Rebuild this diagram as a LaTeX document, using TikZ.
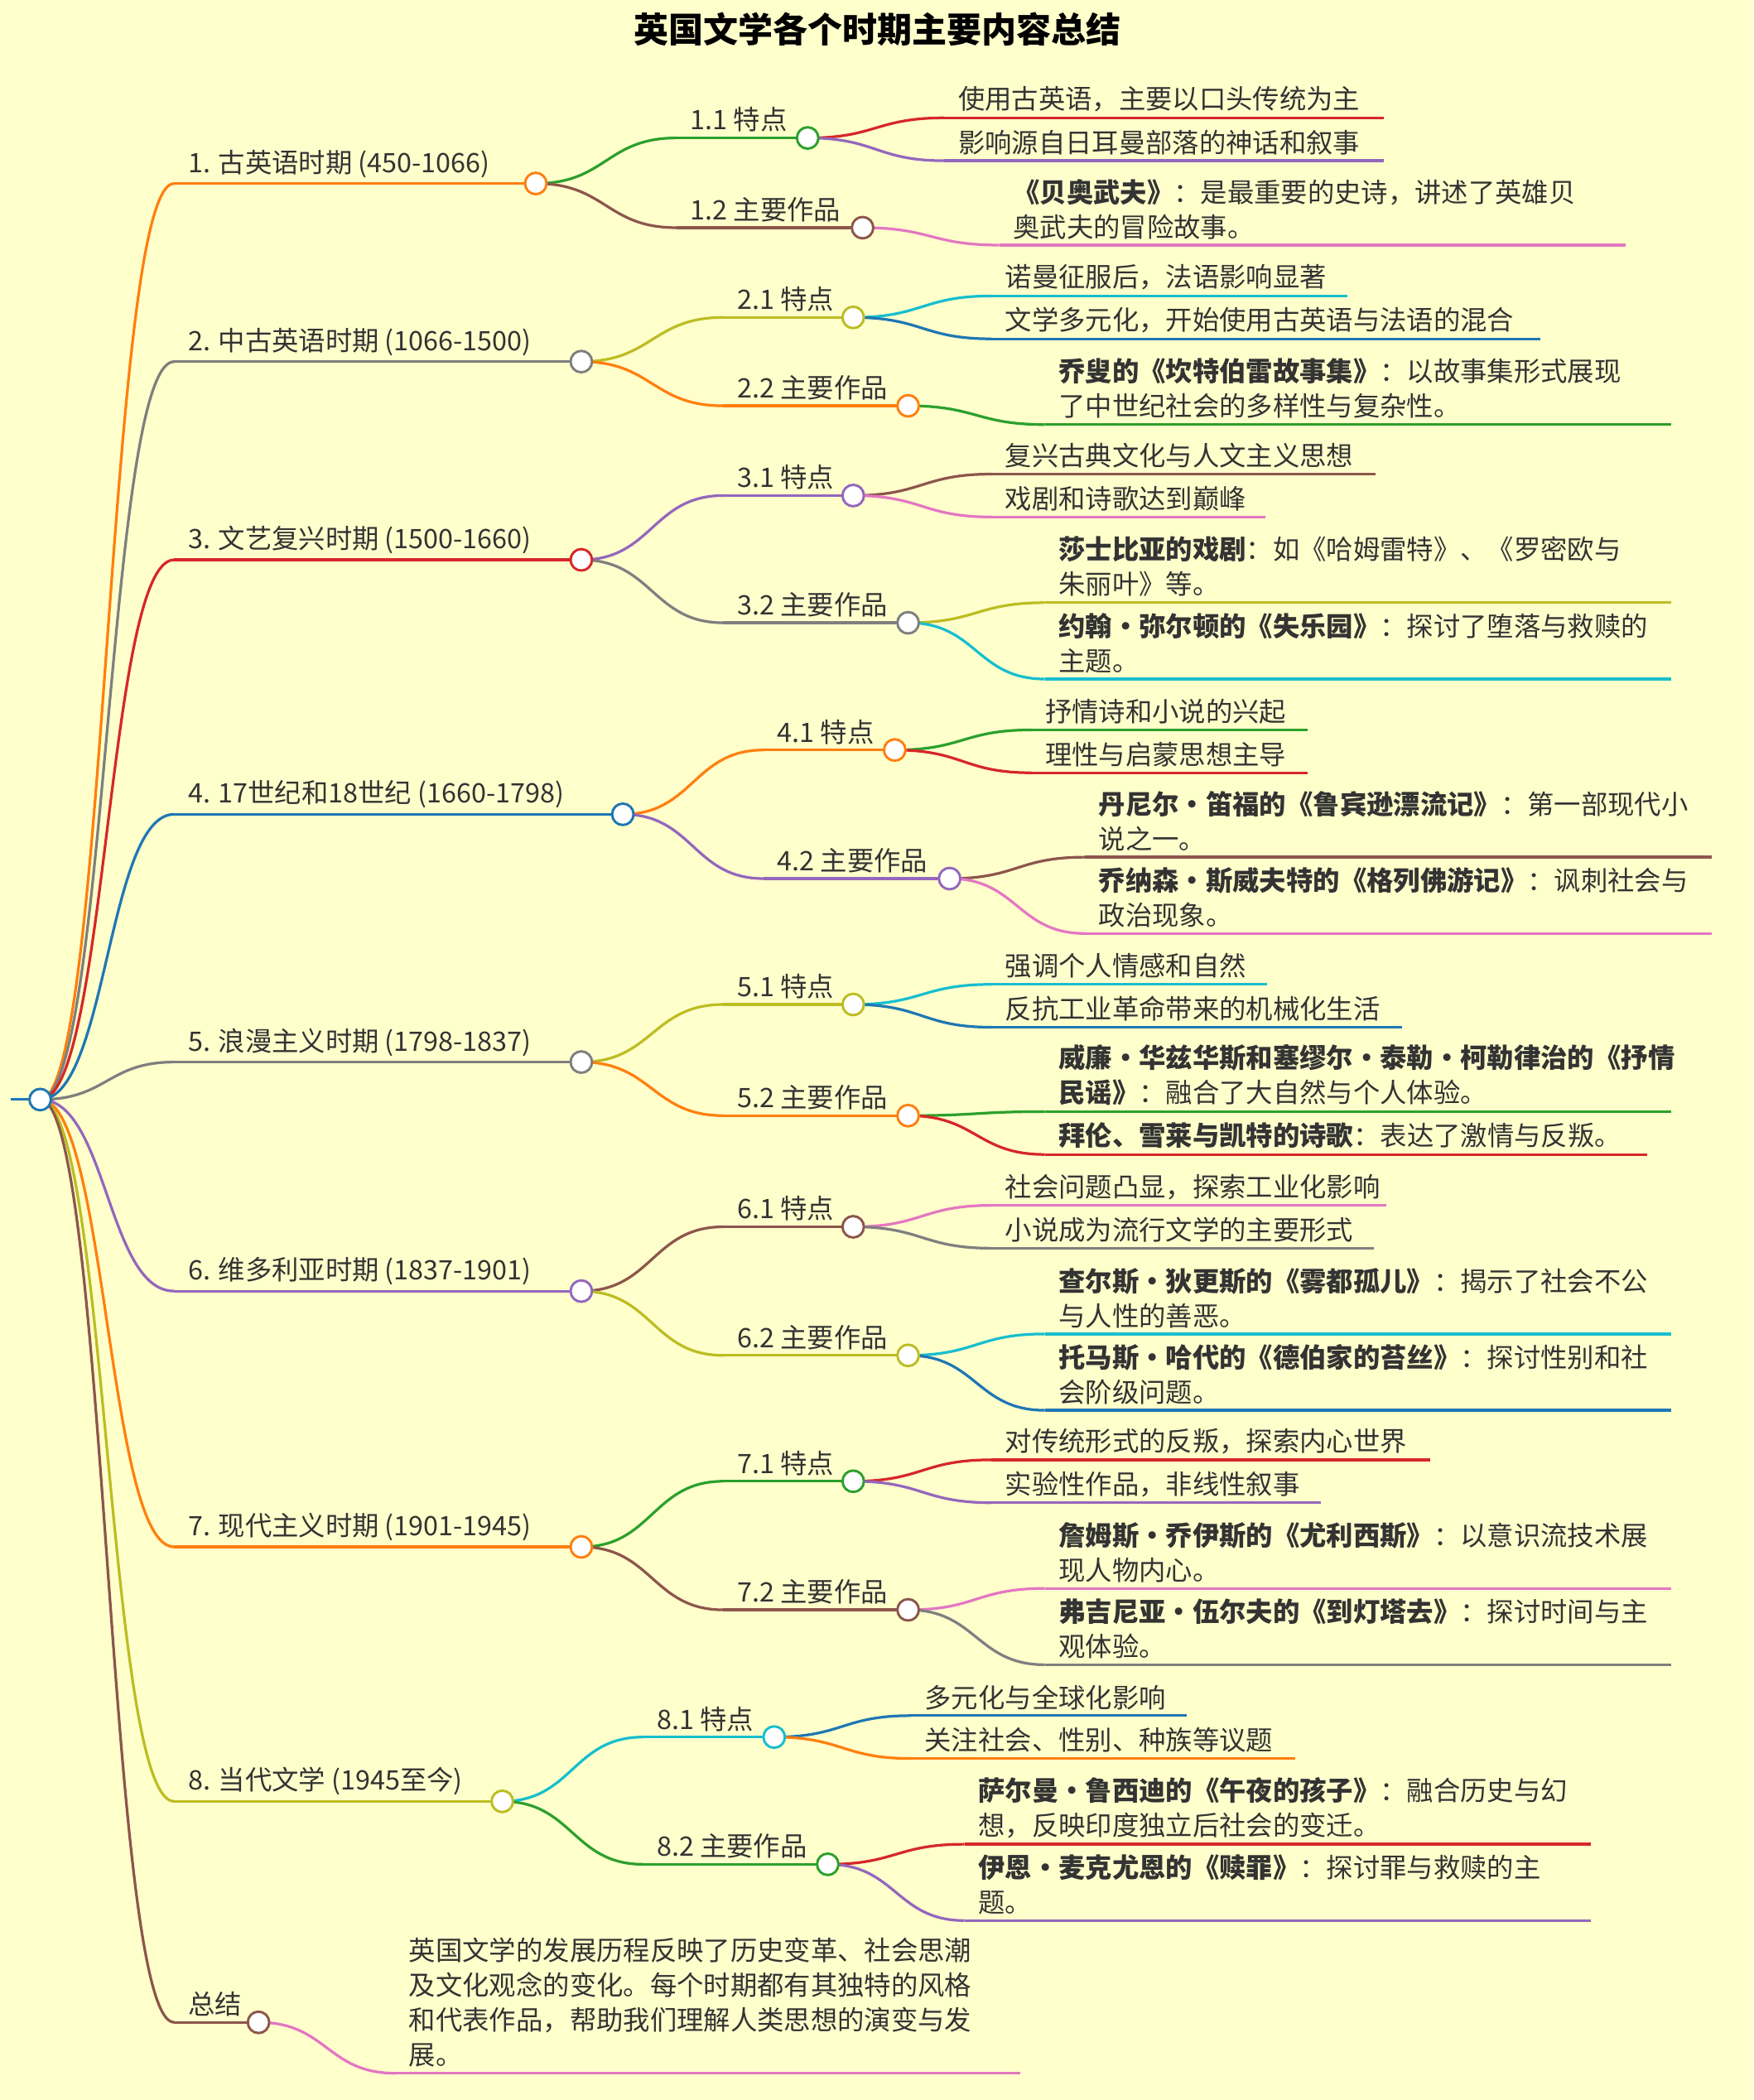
\documentclass[tikz,border=0pt]{standalone}
\usepackage{fontspec}
\setmainfont{Noto Sans CJK SC}
\usetikzlibrary{calc}
\pgfdeclarelayer{back}\pgfdeclarelayer{bg}
\pgfsetlayers{back,bg,main}
\definecolor{cO}{HTML}{FF7F0E}\definecolor{cG}{HTML}{7F7F7F}\definecolor{cR}{HTML}{D62728}
\definecolor{cB}{HTML}{1F77B4}\definecolor{cP}{HTML}{9467BD}\definecolor{cY}{HTML}{BCBD22}
\definecolor{cN}{HTML}{8C564B}\definecolor{cE}{HTML}{2CA02C}\definecolor{cC}{HTML}{17BECF}
\definecolor{cK}{HTML}{E377C2}\definecolor{bgc}{HTML}{FFFFCC}\definecolor{txc}{HTML}{333333}
\tikzset{txt/.style={anchor=south west,inner sep=2pt,align=left,text=txc,font=\fontsize{10pt}{13pt}\selectfont},
 dot/.style={circle,draw=#1,fill=white,line width=0.9pt,minimum size=8pt,inner sep=0pt},
 lk/.style={#1,line width=1pt}}
% name,color,x1,x2,y,text
\newcommand\mnode[6]{\coordinate (#1s) at (#3,#5);\coordinate (#1e) at (#4,#5);
 \begin{pgfonlayer}{bg}\draw[lk=#2] (#1s)--(#1e);\end{pgfonlayer}
 \node[txt] (#1) at ([xshift=3pt]#1s) {#6};}
\newcommand\mdot[2]{\node[dot=#2] (#1c) at (#1e) {};}
\newcommand\mlink[3]{\begin{pgfonlayer}{bg}\draw[lk=#3] let \p1=(#1c.center), \p2=(#2s), \n1={(\x2-\x1)/2} in (\p1) .. controls +(\n1,0pt) and +(-\n1,0pt) .. (\p2);\end{pgfonlayer}}
\begin{document}
\begin{tikzpicture}[x=0.5pt,y=-0.5pt]
\useasboundingbox (0,0) rectangle (1309,1568);
\begin{pgfonlayer}{back}\fill[bgc] (0,0) rectangle (1309,1568);\end{pgfonlayer}
\node[font=\fontsize{13pt}{15pt}\selectfont\bfseries,text=black] (title) at (655,22) {英国文学各个时期主要内容总结};
\coordinate (R0) at (8,821);\coordinate (Re) at (30,821);
\begin{pgfonlayer}{bg}\draw[lk=cB] (R0)--(Re);\end{pgfonlayer}
\node[dot=cB] (Rc) at (Re) {};
% level 1
\mnode{A}{cO}{130}{400}{137}{1. 古英语时期 (450-1066)}\mdot{A}{cO}\mlink{R}{A}{cO}
\mnode{B}{cG}{130}{434}{270}{2. 中古英语时期 (1066-1500)}\mdot{B}{cG}\mlink{R}{B}{cG}
\mnode{C}{cR}{130}{434}{418}{3. 文艺复兴时期 (1500-1660)}\mdot{C}{cR}\mlink{R}{C}{cR}
\mnode{D}{cB}{130}{465}{608}{4. 17世纪和18世纪 (1660-1798)}\mdot{D}{cB}\mlink{R}{D}{cB}
\mnode{E}{cG}{130}{434}{793}{5. 浪漫主义时期 (1798-1837)}\mdot{E}{cG}\mlink{R}{E}{cG}
\mnode{F}{cP}{130}{434}{964}{6. 维多利亚时期 (1837-1901)}\mdot{F}{cP}\mlink{R}{F}{cP}
\mnode{G}{cO}{130}{434}{1155}{7. 现代主义时期 (1901-1945)}\mdot{G}{cO}\mlink{R}{G}{cO}
\mnode{H}{cY}{130}{375}{1345}{8. 当代文学 (1945至今)}\mdot{H}{cY}\mlink{R}{H}{cY}
\mnode{I}{cN}{130}{193}{1510}{总结}\mdot{I}{cN}\mlink{R}{I}{cN}
% level 2
\mnode{A1}{cE}{505}{603}{103}{1.1 特点}\mdot{A1}{cE}\mlink{A}{A1}{cE}
\mnode{A2}{cN}{505}{644}{170}{1.2 主要作品}\mdot{A2}{cN}\mlink{A}{A2}{cN}
\mnode{B1}{cY}{540}{637}{237}{2.1 特点}\mdot{B1}{cY}\mlink{B}{B1}{cY}
\mnode{B2}{cO}{540}{678}{303}{2.2 主要作品}\mdot{B2}{cO}\mlink{B}{B2}{cO}
\mnode{C1}{cP}{540}{637}{370}{3.1 特点}\mdot{C1}{cP}\mlink{C}{C1}{cP}
\mnode{C2}{cG}{540}{678}{465}{3.2 主要作品}\mdot{C2}{cG}\mlink{C}{C2}{cG}
\mnode{D1}{cO}{570}{668}{560}{4.1 特点}\mdot{D1}{cO}\mlink{D}{D1}{cO}
\mnode{D2}{cP}{570}{709}{656}{4.2 主要作品}\mdot{D2}{cP}\mlink{D}{D2}{cP}
\mnode{E1}{cY}{540}{637}{750}{5.1 特点}\mdot{E1}{cY}\mlink{E}{E1}{cY}
\mnode{E2}{cO}{540}{678}{833}{5.2 主要作品}\mdot{E2}{cO}\mlink{E}{E2}{cO}
\mnode{F1}{cN}{540}{637}{916}{6.1 特点}\mdot{F1}{cN}\mlink{F}{F1}{cN}
\mnode{F2}{cY}{540}{678}{1012}{6.2 主要作品}\mdot{F2}{cY}\mlink{F}{F2}{cY}
\mnode{G1}{cE}{540}{637}{1106}{7.1 特点}\mdot{G1}{cE}\mlink{G}{G1}{cE}
\mnode{G2}{cN}{540}{678}{1202}{7.2 主要作品}\mdot{G2}{cN}\mlink{G}{G2}{cN}
\mnode{H1}{cC}{480}{578}{1297}{8.1 特点}\mdot{H1}{cC}\mlink{H}{H1}{cC}
\mnode{H2}{cE}{480}{618}{1392}{8.2 主要作品}\mdot{H2}{cE}\mlink{H}{H2}{cE}
% leaves
\mnode{a1}{cR}{705}{1033}{88}{使用古英语，主要以口头传统为主}\mlink{A1}{a1}{cR}
\mnode{a2}{cP}{705}{1033}{120}{影响源自日耳曼部落的神话和叙事}\mlink{A1}{a2}{cP}
\mnode{a3}{cK}{746}{1214}{183}{\textbf{《贝奥武夫》}：是最重要的史诗，讲述了英雄贝\\奥武夫的冒险故事。}\mlink{A2}{a3}{cK}
\mnode{b1}{cC}{740}{1006}{221}{诺曼征服后，法语影响显著}\mlink{B1}{b1}{cC}
\mnode{b2}{cB}{740}{1150}{253}{文学多元化，开始使用古英语与法语的混合}\mlink{B1}{b2}{cB}
\mnode{b3}{cE}{780}{1248}{317}{\textbf{乔叟的《坎特伯雷故事集》}：以故事集形式展现\\了中世纪社会的多样性与复杂性。}\mlink{B2}{b3}{cE}
\mnode{c1}{cN}{740}{1027}{354}{复兴古典文化与人文主义思想}\mlink{C1}{c1}{cN}
\mnode{c2}{cK}{740}{945}{386}{戏剧和诗歌达到巅峰}\mlink{C1}{c2}{cK}
\mnode{c3}{cY}{780}{1248}{450}{\textbf{莎士比亚的戏剧}：如《哈姆雷特》、《罗密欧与\\朱丽叶》等。}\mlink{C2}{c3}{cY}
\mnode{c4}{cC}{780}{1248}{507}{\textbf{约翰·弥尔顿的《失乐园》}：探讨了堕落与救赎的\\主题。}\mlink{C2}{c4}{cC}
\mnode{d1}{cE}{770}{976}{545}{抒情诗和小说的兴起}\mlink{D1}{d1}{cE}
\mnode{d2}{cR}{770}{976}{577}{理性与启蒙思想主导}\mlink{D1}{d2}{cR}
\mnode{d3}{cN}{810}{1278}{640}{\textbf{丹尼尔·笛福的《鲁宾逊漂流记》}：第一部现代小\\说之一。}\mlink{D2}{d3}{cN}
\mnode{d4}{cK}{810}{1278}{697}{\textbf{乔纳森·斯威夫特的《格列佛游记》}：讽刺社会与\\政治现象。}\mlink{D2}{d4}{cK}
\mnode{e1}{cC}{740}{946}{735}{强调个人情感和自然}\mlink{E1}{e1}{cC}
\mnode{e2}{cB}{740}{1047}{767}{反抗工业革命带来的机械化生活}\mlink{E1}{e2}{cB}
\mnode{e3}{cE}{780}{1248}{830}{\textbf{威廉·华兹华斯和塞缪尔·泰勒·柯勒律治的《抒情}\\\textbf{民谣》}：融合了大自然与个人体验。}\mlink{E2}{e3}{cE}
\mnode{e4}{cR}{780}{1230}{862}{\textbf{拜伦、雪莱与凯特的诗歌}：表达了激情与反叛。}\mlink{E2}{e4}{cR}
\mnode{f1}{cK}{740}{1035}{900}{社会问题凸显，探索工业化影响}\mlink{F1}{f1}{cK}
\mnode{f2}{cG}{740}{1026}{932}{小说成为流行文学的主要形式}\mlink{F1}{f2}{cG}
\mnode{f3}{cC}{780}{1248}{996}{\textbf{查尔斯·狄更斯的《雾都孤儿》}：揭示了社会不公\\与人性的善恶。}\mlink{F2}{f3}{cC}
\mnode{f4}{cB}{780}{1248}{1053}{\textbf{托马斯·哈代的《德伯家的苔丝》}：探讨性别和社\\会阶级问题。}\mlink{F2}{f4}{cB}
\mnode{g1}{cR}{740}{1068}{1090}{对传统形式的反叛，探索内心世界}\mlink{G1}{g1}{cR}
\mnode{g2}{cP}{740}{986}{1122}{实验性作品，非线性叙事}\mlink{G1}{g2}{cP}
\mnode{g3}{cK}{780}{1248}{1186}{\textbf{詹姆斯·乔伊斯的《尤利西斯》}：以意识流技术展\\现人物内心。}\mlink{G2}{g3}{cK}
\mnode{g4}{cG}{780}{1248}{1243}{\textbf{弗吉尼亚·伍尔夫的《到灯塔去》}：探讨时间与主\\观体验。}\mlink{G2}{g4}{cG}
\mnode{h1}{cB}{680}{886}{1281}{多元化与全球化影响}\mlink{H1}{h1}{cB}
\mnode{h2}{cO}{680}{967}{1313}{关注社会、性别、种族等议题}\mlink{H1}{h2}{cO}
\mnode{h3}{cR}{720}{1188}{1377}{\textbf{萨尔曼·鲁西迪的《午夜的孩子》}：融合历史与幻\\想，反映印度独立后社会的变迁。}\mlink{H2}{h3}{cR}
\mnode{h4}{cP}{720}{1188}{1434}{\textbf{伊恩·麦克尤恩的《赎罪》}：探讨罪与救赎的主\\题。}\mlink{H2}{h4}{cP}
\mnode{i1}{cK}{295}{762}{1548}{英国文学的发展历程反映了历史变革、社会思潮\\及文化观念的变化。每个时期都有其独特的风格\\和代表作品，帮助我们理解人类思想的演变与发\\展。}\mlink{I}{i1}{cK}
\end{tikzpicture}
\end{document}
